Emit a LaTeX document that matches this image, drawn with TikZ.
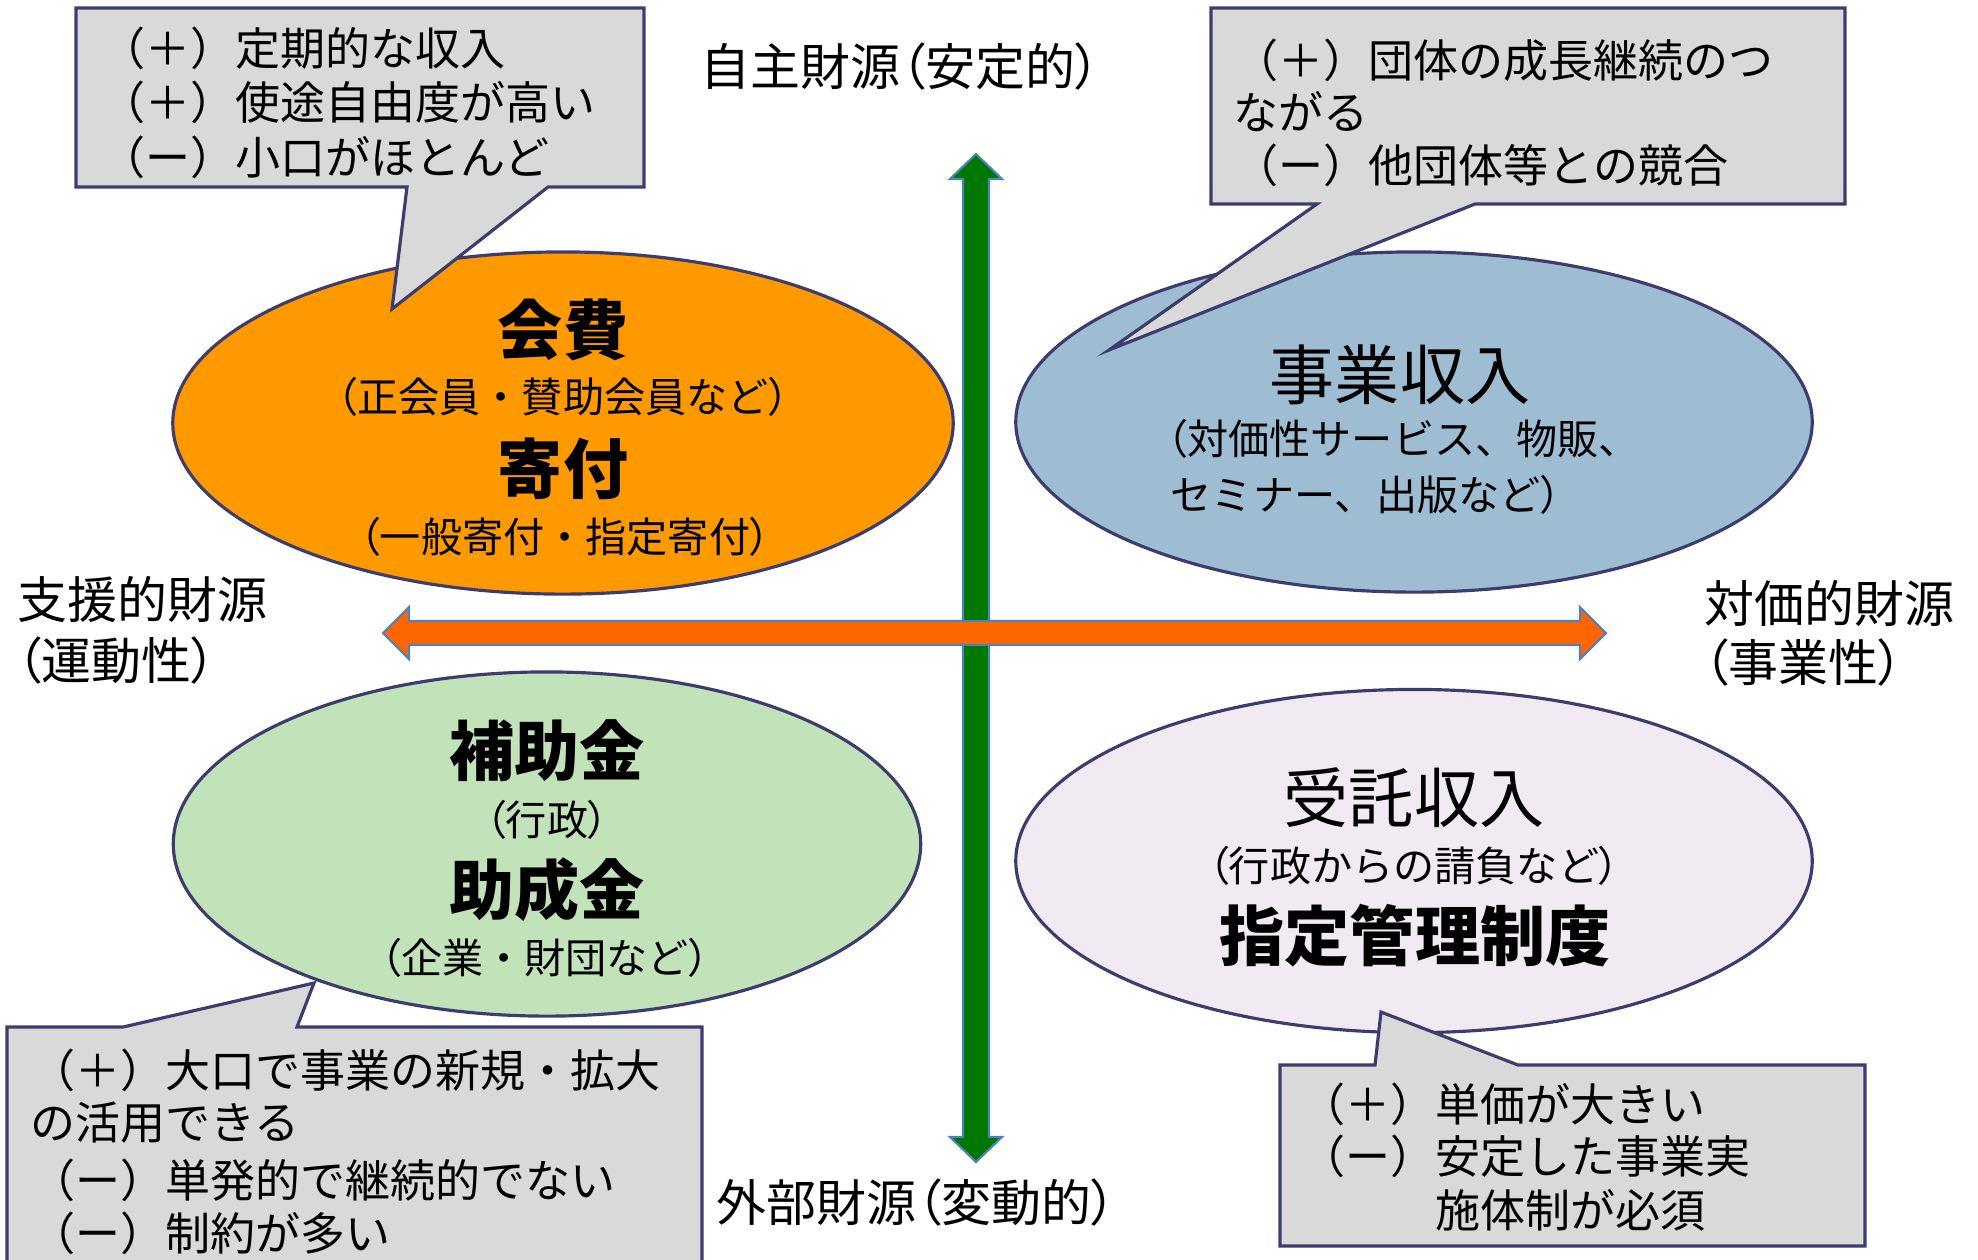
\documentclass[tikz,border=0pt]{standalone}
\usepackage{fontspec}
\setmainfont{Noto Sans CJK JP}
\newfontfamily\pfont[RawFeature=+palt]{Noto Sans CJK JP}
\newcommand\lp{{\pfont （}}
\newcommand\rp{{\pfont ）}}
\usetikzlibrary{shapes.geometric}
\definecolor{edgec}{RGB}{60,60,110}
\definecolor{calloutc}{RGB}{217,217,217}
\definecolor{orangec}{RGB}{255,153,0}
\definecolor{bluec}{RGB}{158,189,211}
\definecolor{greenc}{RGB}{194,226,186}
\definecolor{pinkc}{RGB}{242,234,243}
\definecolor{arrowgreen}{RGB}{0,120,0}
\definecolor{arroworange}{RGB}{255,102,0}
\definecolor{arrowline}{RGB}{79,129,189}
\begin{document}
\begin{tikzpicture}[x=0.01cm,y=-0.01cm,
  bubble/.style={ellipse, draw=edgec, line width=0.9pt, inner sep=0pt},
  callout/.style={draw=edgec, fill=calloutc, line width=0.9pt, line join=miter},
  bigarrow/.style={draw=arrowline, line width=0.6pt, line join=miter},
  ctext/.style={anchor=base west, inner sep=0pt, font=\fontsize{12.8}{15}\selectfont},
  bigtext/.style={anchor=base, inner sep=0pt, font=\fontsize{18.5}{20}\selectfont\bfseries},
  bigreg/.style={anchor=base, inner sep=0pt, font=\fontsize{18.5}{20}\selectfont},
  smalltext/.style={anchor=base, inner sep=0pt, font=\fontsize{11.7}{14}\selectfont},
  axistext/.style={anchor=base west, inner sep=0pt, font=\fontsize{14.2}{17}\selectfont}]
\useasboundingbox (0,0) rectangle (1978,1259);

% ellipses
\node[bubble, fill=orangec, minimum width=7.8cm, minimum height=3.42cm] (kaihi) at (563,423) {};
\node[bubble, fill=bluec, minimum width=7.96cm, minimum height=3.40cm] (jigyo) at (1414,422) {};
\node[bubble, fill=greenc, minimum width=7.47cm, minimum height=3.44cm] (hojo) at (547,844) {};
\node[bubble, fill=pinkc, minimum width=7.96cm, minimum height=3.43cm] (jutaku) at (1414,861) {};

% axes arrows
\draw[bigarrow, fill=arrowgreen] (976,154) -- (1002,179) -- (989,179) -- (989,1137) -- (1002,1137) -- (976,1162) -- (950,1137) -- (963,1137) -- (963,179) -- (950,179) -- cycle;
\draw[bigarrow, fill=arroworange] (383,633) -- (409,607) -- (409,621) -- (1580,621) -- (1580,607) -- (1606,633) -- (1580,659) -- (1580,645) -- (409,645) -- (409,659) -- cycle;

% callouts
\draw[callout] (76,8) -- (644,8) -- (644,187) -- (548,187) -- (392,309) -- (407,187) -- (76,187) -- cycle;
\draw[callout] (1211,8) -- (1845,8) -- (1845,204) -- (1475,204) -- (1109,350) -- (1317,204) -- (1211,204) -- cycle;
\draw[callout] (7,1027) -- (123,1027) -- (314,983) -- (297,1027) -- (702,1027) -- (702,1275) -- (7,1275) -- cycle;
\draw[callout] (1280,1065) -- (1375,1065) -- (1381,1012) -- (1518,1065) -- (1865,1065) -- (1865,1246) -- (1280,1246) -- cycle;

% callout texts
\node[ctext] (tl1) at (100,65) {（＋）定期的な収入};
\node[ctext] (tl2) at (100,119) {（＋）使途自由度が高い};
\node[ctext] (tl3) at (100,174) {（ー）小口がほとんど};

\node[ctext] (tr1) at (1233,77) {（＋）団体の成長継続のつ};
\node[ctext] (tr2) at (1233,129) {ながる};
\node[ctext] (tr3) at (1233,182) {（ー）他団体等との競合};

\node[ctext] (bl1) at (30,1087) {（＋）大口で事業の新規・拡大};
\node[ctext] (bl2) at (30,1139) {の活用できる};
\node[ctext] (bl3) at (30,1197) {（ー）単発的で継続的でない};
\node[ctext] (bl4) at (30,1250) {（ー）制約が多い};

\node[ctext] (br1) at (1300,1121) {（＋）単価が大きい};
\node[ctext] (br2) at (1300,1173) {（ー）安定した事業実};
\node[ctext] (br3) at (1300,1227) {　　　施体制が必須};

% ellipse texts
\node[bigtext] (t1) at (563,354) {会費};
\node[smalltext] (t2) at (563,412) {\lp 正会員・賛助会員など\rp};
\node[bigtext] (t3) at (563,493) {寄付};
\node[smalltext] (t4) at (565,552) {\lp 一般寄付・指定寄付\rp};

\node[bigreg] (t5) at (1400,399) {事業収入};
\node[smalltext, anchor=base west] (t6) at (1166,454) {\lp 対価性サービス、物販、};
\node[smalltext, anchor=base west] (t7) at (1170,510) {セミナー、出版など\rp};

\node[bigtext] (t8) at (547,775) {補助金};
\node[smalltext] (t9) at (547,835) {\lp 行政\rp};
\node[bigtext] (t10) at (547,914) {助成金};
\node[smalltext] (t11) at (545,973) {\lp 企業・財団など\rp};

\node[bigreg] (t12) at (1414,822) {受託収入};
\node[smalltext] (t13) at (1414,881) {\lp 行政からの請負など\rp};
\node[bigtext] (t14) at (1415,960) {指定管理制度};

% axis labels
\node[axistext] (ax1) at (700,85) {自主財源\lp 安定的\rp};
\node[axistext] (ax2) at (716,1221) {外部財源\lp 変動的\rp};
\node[axistext] (ax3) at (17,618) {支援的財源};
\node[axistext] (ax4) at (16,679) {\lp 運動性\rp};
\node[axistext] (ax5) at (1704,622) {対価的財源};
\node[axistext] (ax6) at (1703,681) {\lp 事業性\rp};
\end{tikzpicture}
\end{document}
